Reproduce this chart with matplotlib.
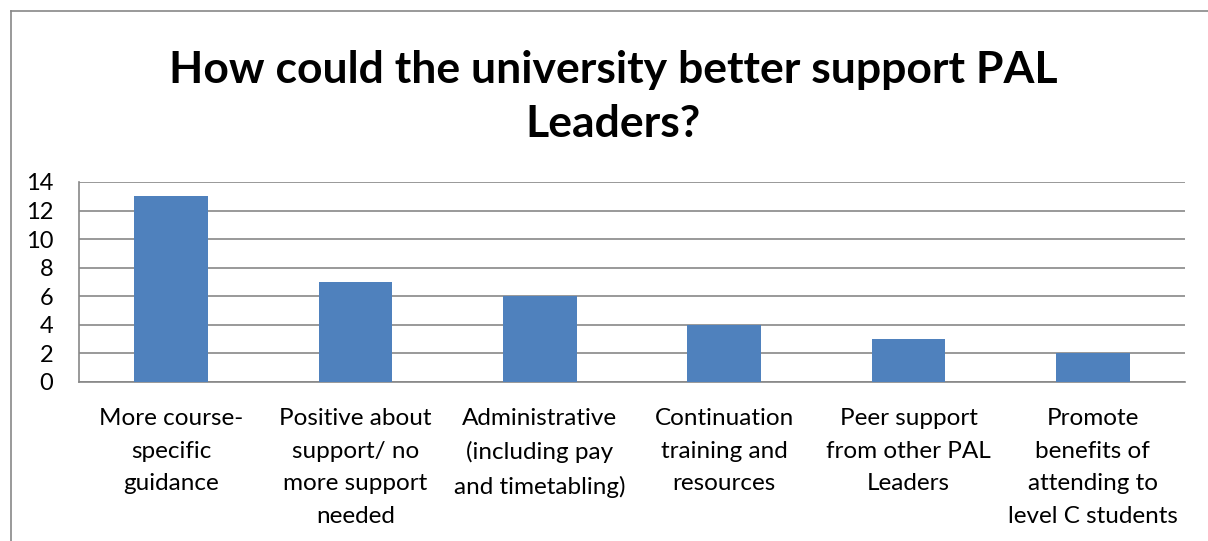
import matplotlib.pyplot as plt
from matplotlib.lines import Line2D

categories = [
    "More course-\nspecific\nguidance",
    "Positive about\nsupport/ no\nmore support\nneeded",
    "Administrative\n(including pay\nand timetabling)",
    "Continuation\ntraining and\nresources",
    "Peer support\nfrom other PAL\nLeaders",
    "Promote\nbenefits of\nattending to\nlevel C students",
]
counts = [13, 7, 6, 4, 3, 2]
yticks = list(range(0, 15, 2))

W, H = 1208, 541
plt.rcParams['font.family'] = ['Lato', 'DejaVu Sans']
fig = plt.figure(figsize=(W / 100, H / 100), dpi=100)

# chart frame (only left and top edges fall inside the image)
grey = '#878787'
fig.add_artist(Line2D([10.5 / W, 10.5 / W], [0, 1 - 10.5 / H], color=grey, lw=1.2,
                      transform=fig.transFigure))
fig.add_artist(Line2D([10.5 / W, 1], [1 - 10.5 / H, 1 - 10.5 / H], color=grey, lw=1.2,
                      transform=fig.transFigure))

ax = fig.add_axes([79 / W, 1 - 382 / H, (1185 - 79) / W, 200 / H])
x = range(len(counts))
ax.bar(x, counts, width=0.4, color='#4F81BD', zorder=3)
ax.set_xlim(-0.5, len(counts) - 0.5)
ax.set_ylim(0, 14)
ax.set_yticks(yticks)
ax.set_yticklabels([str(t) for t in yticks], fontsize=17)
ax.set_xticks(list(x))
ax.set_xticklabels(categories, fontsize=17.5, linespacing=1.7, va='top')
ax.tick_params(axis='both', length=0, colors='black')
ax.tick_params(axis='x', pad=18.5)
ax.tick_params(axis='y', pad=18.5)
for lbl in ax.get_yticklabels():
    lbl.set_ha('right')
ax.grid(axis='y', color=grey, lw=1.2, zorder=0)
for side in ('top', 'right'):
    ax.spines[side].set_visible(False)
for side in ('left', 'bottom'):
    ax.spines[side].set_color(grey)
    ax.spines[side].set_linewidth(1.2)

fig.text(613 / W, 1 - 97 / H, "How could the university better support PAL\nLeaders?",
         ha='center', va='center', fontsize=32, fontweight='bold', linespacing=1.45)

fig.savefig('out.png', dpi=100)
